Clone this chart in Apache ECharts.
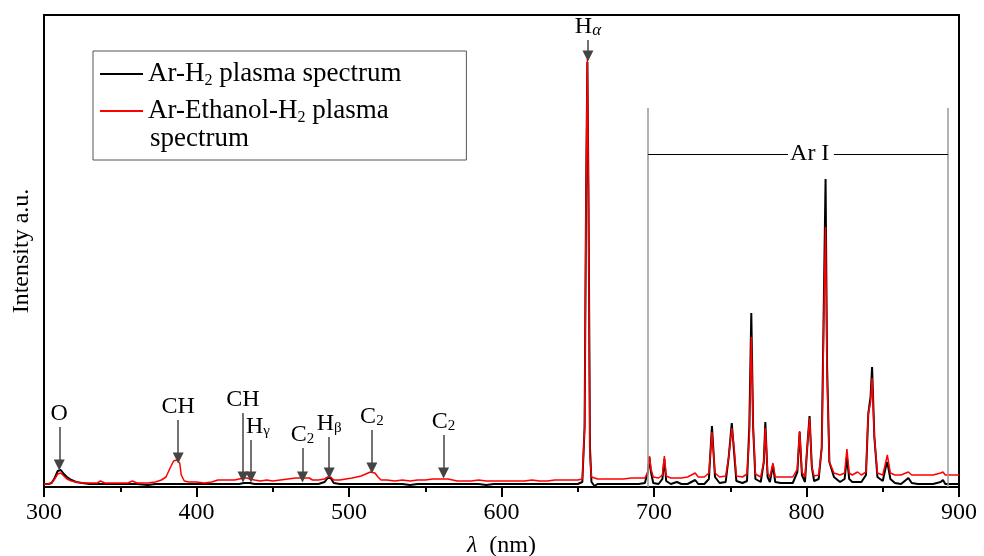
<!DOCTYPE html>
<html>
<head>
    <meta charset="utf-8">
    <title>Plasma spectrum</title>
    <script src="https://cdn.jsdelivr.net/npm/echarts@6/dist/echarts.min.js"></script>
</head>
<body style="margin:0;background:#fff">
<div id="main" style="width:984px;height:556px"></div>
<script>
    // ---- spectrum data (wavelength in nm, intensity in arbitrary units) ----
    var wavelength = [
        300, 303, 305, 307, 309, 310, 311, 313, 315, 318, 321, 325, 330, 335, 337,
        340, 345, 350, 355, 358, 361, 368, 373, 377, 380, 383, 385, 387, 388, 389, 390, 392,
        395, 400, 405, 410, 414, 420, 425, 428, 431, 433, 435, 438, 442, 446,
        450, 455, 460, 465, 470, 474, 476, 480, 484, 486, 488, 490, 494, 498, 502, 505, 508, 511, 514, 515, 517, 519, 521,
        525, 530, 535, 540, 545, 550, 555, 560, 565, 568, 571, 575, 580, 585, 590, 595, 600, 605, 610, 615, 620, 625, 630, 635, 640, 645, 650,
        653, 654.5, 655.5, 656.3, 657, 658, 659, 661, 663, 668, 672, 676, 680, 685, 690, 694,
        696, 697, 698, 699.5, 703, 705.5, 706.8, 708, 711, 715, 718, 722, 727, 729, 733, 736, 738, 740, 743, 747,
        749, 751, 752.5, 754, 758, 761, 762.5, 763.8, 765, 766.5, 770, 772, 773, 774.5, 776, 778, 779.5, 783, 787, 791, 794, 795.5, 797, 799,
        800.5, 802, 803.5, 805, 808, 810, 811.5, 812.5, 813.5, 815, 818, 822, 825, 826.5, 828, 830, 833.5, 836, 839, 840.5, 842, 843, 844.5, 846.5,
        850, 852, 853, 855, 858, 862, 866.8, 869, 873, 878, 883, 888, 889.5, 891, 895, 900
    ];
    var arH2 = [
        3, 3, 4, 9, 16, 18, 17, 13, 10, 7, 5, 4, 3, 3, 3,
        3, 3, 3, 3, 3, 3, 2, 3, 3, 3, 3, 3, 3, 3, 3, 3, 3,
        3, 3, 3, 3, 3, 3, 3, 3, 4, 4, 4, 3, 3, 3,
        3, 3, 3, 3, 3, 3, 3, 3, 5, 9, 9, 4, 3, 3, 3, 3, 3, 3, 3, 3, 3, 3, 3,
        3, 3, 3, 2, 3, 3, 3, 3, 3, 3, 3, 3, 3, 3, 2, 3, 3, 3, 3, 3, 3, 3, 3, 3, 3, 3, 3,
        5, 60, 300, 425, 300, 40, 5, 1, 3, 3, 3, 3, 3, 3, 3, 4,
        15, 30, 15, 4, 3, 8, 28, 6, 3, 5, 3, 3, 7, 3, 3, 8, 61, 10, 4, 5,
        30, 64, 35, 6, 4, 6, 60, 174, 60, 8, 5, 25, 65, 10, 5, 22, 5, 4, 4, 4, 15, 55, 12, 5,
        40, 71, 20, 6, 8, 40, 200, 308, 120, 25, 10, 5, 8, 30, 8, 5, 5, 5, 12, 73, 90, 120, 50, 10,
        6, 20, 25, 8, 4, 3, 9, 4, 3, 3, 3, 5, 7, 3, 3, 3
    ];
    var arEthanolH2 = [
        3, 3, 4, 8, 13, 15, 14, 11, 8, 6, 5, 4, 4, 4, 6,
        4, 4, 4, 4, 6, 4, 4, 5, 7, 10, 20, 26, 27, 27, 24, 12, 6,
        5, 5, 4, 5, 7, 7, 7, 8, 9, 9, 8, 7, 6, 7,
        6, 7, 8, 9, 9, 9, 7, 7, 8, 10, 10, 7, 7, 8, 9, 10, 11, 13, 15, 16, 14, 10, 7,
        7, 6, 7, 6, 7, 7, 8, 8, 8, 7, 6, 6, 6, 7, 6, 6, 6, 6, 6, 6, 7, 6, 6, 7, 7, 7, 7,
        8, 60, 300, 428, 290, 30, 10, 9, 8, 8, 8, 8, 8, 9, 9, 9,
        15, 31, 18, 10, 9, 12, 31, 11, 9, 9, 9, 10, 14, 10, 10, 14, 55, 14, 10, 11,
        30, 59, 40, 11, 10, 13, 50, 150, 60, 13, 10, 25, 59, 14, 10, 24, 10, 10, 10, 10, 18, 56, 15, 10,
        40, 69, 20, 11, 12, 38, 180, 260, 110, 25, 14, 12, 14, 38, 14, 12, 15, 12, 15, 73, 85, 109, 50, 14,
        12, 25, 32, 14, 12, 12, 15, 12, 12, 12, 12, 14, 15, 12, 12, 12
    ];

    // ---- line annotations: label, position (nm), arrow tail / tip intensity ----
    var peakNames = ['O', 'CH', 'CH', 'H{g|γ}', 'C{n|2}', 'H{g|β}', 'C{n|2}', 'C{n|2}', 'H{a|α}'];
    var peakAt = [310, 388, 430.5, 435.7, 469.5, 487, 515, 562, 656.7];
    var arrowFrom = [60, 67, 74, 47, 39, 50, 57, 52, 447];
    var arrowTo = [22, 29, 10, 10, 10, 14, 19, 14, 431];

    // Ar I band
    var arBand = [696, 892.8];
    var arBandTop = 379;
    var arLabelY = 333;
    var arGap = [787.9, 818];

    var FONT = 'Liberation Serif';
    var chart = echarts.init(document.getElementById('main'));

    var richSub = {
        n: {fontFamily: FONT, fontSize: 15, verticalAlign: 'bottom', lineHeight: 20},
        g: {fontFamily: FONT, fontSize: 15, verticalAlign: 'bottom', lineHeight: 22},
        a: {fontFamily: FONT, fontSize: 17, fontStyle: 'italic', verticalAlign: 'bottom', lineHeight: 20}
    };

    var arrows = peakNames.map(function (name, i) {
        var lbl = {
            show: true, position: 'start', distance: 1, formatter: name,
            color: '#000', fontFamily: FONT, fontSize: 24, rich: richSub
        };
        // H-gamma label sits a little to the right of its arrow
        if (name === 'H{g|γ}') {
            lbl.padding = [0, 0, 0, 14];
        }
        return [
            {coord: [peakAt[i], arrowFrom[i]], symbol: 'none', label: lbl},
            {coord: [peakAt[i], arrowTo[i]], symbol: 'triangle', symbolSize: 11}
        ];
    });

    var band = [
        [{coord: [arBand[0], 0], symbol: 'none', lineStyle: {color: '#999', width: 1.5, type: 'solid'}, label: {show: false}},
            {coord: [arBand[0], arBandTop], symbol: 'none'}],
        [{coord: [arBand[1], 0], symbol: 'none', lineStyle: {color: '#999', width: 1.5, type: 'solid'}, label: {show: false}},
            {coord: [arBand[1], arBandTop], symbol: 'none'}],
        [{coord: [arBand[0], arLabelY], symbol: 'none', lineStyle: {color: '#000', width: 1, type: 'solid'},
            label: {show: true, position: 'end', distance: 2, formatter: 'Ar I', color: '#000', fontFamily: FONT, fontSize: 24}},
            {coord: [arGap[0], arLabelY], symbol: 'none'}],
        [{coord: [arGap[1], arLabelY], symbol: 'none', lineStyle: {color: '#000', width: 1, type: 'solid'}, label: {show: false}},
            {coord: [arBand[1], arLabelY], symbol: 'none'}]
    ];

    var option = {
        animation: false,
        grid: {
            left: 44, right: 25, top: 15, bottom: 69,
            outerBoundsMode: 'none',
            show: true, borderColor: '#000', borderWidth: 2
        },
        legend: {
            data: ['Ar-H2 plasma spectrum', 'Ar-Ethanol-H2 plasma'],
            orient: 'vertical',
            left: 93, top: 51,
            padding: [8, 65, 34, 7],
            itemGap: 7,
            icon: 'rect',
            itemWidth: 43, itemHeight: 2,
            borderColor: '#555', borderWidth: 1,
            textStyle: {
                fontFamily: FONT, fontSize: 27, lineHeight: 30, color: '#000',
                rich: {s: {fontFamily: FONT, fontSize: 16, verticalAlign: 'bottom', lineHeight: 24}}
            },
            formatter: function (name) {
                return name.replace('H2', 'H{s|2}');
            }
        },
        graphic: [{
            type: 'text', left: 150, top: 125,
            style: {text: 'spectrum', font: '27px "Liberation Serif"', fill: '#000'}
        }],
        xAxis: {
            type: 'value', min: 300, max: 900, interval: 100,
            name: '{i|λ}  (nm)', nameLocation: 'middle', nameGap: 47,
            nameTextStyle: {fontFamily: FONT, fontSize: 24, color: '#000', rich: {i: {fontFamily: FONT, fontSize: 24, fontStyle: 'italic'}}},
            axisLine: {lineStyle: {color: '#000', width: 2}},
            axisTick: {length: 10, lineStyle: {width: 2, color: '#000'}},
            minorTick: {show: true, splitNumber: 2, length: 5, lineStyle: {width: 2, color: '#000'}},
            axisLabel: {fontFamily: FONT, fontSize: 24, color: '#000', margin: 14},
            splitLine: {show: false}
        },
        yAxis: {
            type: 'value', min: 0, max: 472,
            name: 'Intensity a.u.', nameLocation: 'middle', nameGap: 10,
            nameTextStyle: {fontFamily: FONT, fontSize: 24, color: '#000'},
            axisLine: {show: true, lineStyle: {color: '#000', width: 2}},
            axisTick: {show: false},
            axisLabel: {show: false},
            splitLine: {show: false}
        },
        series: [
            {
                name: 'Ar-H2 plasma spectrum', type: 'line', symbol: 'none',
                lineStyle: {color: '#000', width: 2}, itemStyle: {color: '#000'},
                data: wavelength.map(function (w, i) { return [w, arH2[i]]; })
            },
            {
                name: 'Ar-Ethanol-H2 plasma', type: 'line', symbol: 'none',
                lineStyle: {color: '#ff0000', width: 1.5}, itemStyle: {color: '#ff0000'},
                data: wavelength.map(function (w, i) { return [w, arEthanolH2[i]]; })
            },
            {
                name: 'annotations', type: 'line', data: [], silent: true,
                markLine: {
                    silent: true, animation: false,
                    lineStyle: {color: '#444', width: 1.5, type: 'solid'},
                    itemStyle: {color: '#444'},
                    data: arrows.concat(band)
                }
            }
        ]
    };

    chart.setOption(option);
</script>
</body>
</html>
